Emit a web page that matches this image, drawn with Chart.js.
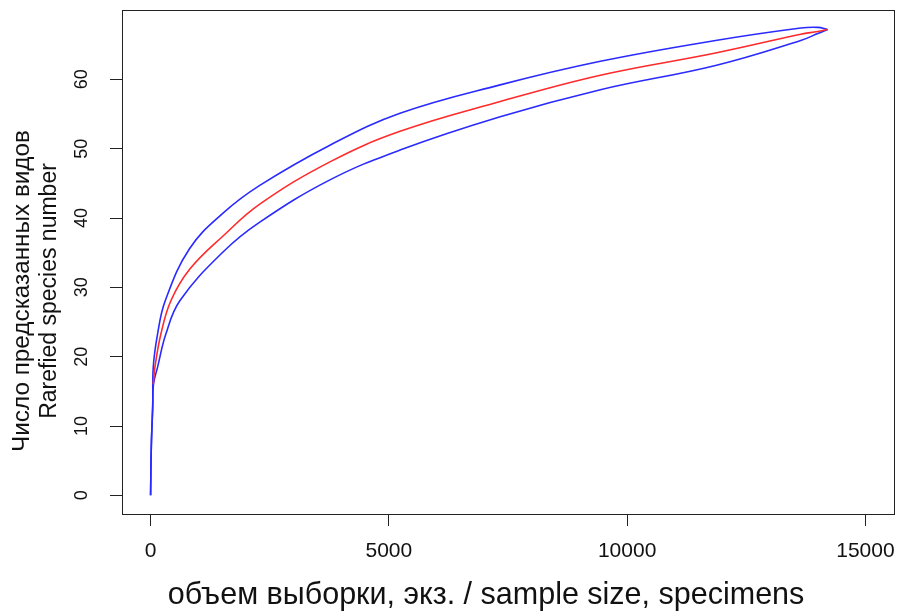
<!DOCTYPE html>
<html>
<head>
<meta charset="utf-8">
<script src="https://cdn.jsdelivr.net/npm/chart.js@4.4.1/dist/chart.umd.min.js"></script>
<style>
  html, body { margin: 0; padding: 0; background: #ffffff; }
  #wrap { width: 898px; height: 612px; position: relative; }
</style>
</head>
<body>
<div id="wrap"><canvas id="c" width="898" height="612"></canvas></div>
<script>
// ---- data ----
const upperX = [0, 15, 45, 56, 147, 309, 820, 1520, 2291, 3763, 5234, 7336, 9439, 11856, 13643, 14000, 14205];
const upperY = [0, 7, 13, 18.5, 23.3, 28.1, 35.6, 40.7, 44.7, 50.5, 55.1, 59.2, 62.6, 65.6, 67.4, 67.5, 67.2];

const meanX = [55, 91, 217, 428, 820, 1520, 2291, 3763, 5234, 7336, 9439, 11856, 13643, 14000, 14205];
const meanY = [16, 18.5, 23.3, 28.1, 32.6, 37.4, 42.0, 48.1, 52.5, 56.8, 60.6, 63.8, 66.5, 66.9, 67.2];

const lowerX = [0, 15, 45, 60, 147, 322, 617, 1520, 2291, 3763, 5234, 7336, 9439, 11856, 13643, 14000, 14205];
const lowerY = [0, 7, 13, 16, 18.5, 23.3, 28.1, 35.1, 39.4, 45.5, 49.8, 54.6, 58.5, 62.0, 65.6, 66.6, 67.2];

const xTicks = [0, 5000, 10000, 15000];
const yTicks = [0, 10, 20, 30, 40, 50, 60];

const xTitle = 'объем выборки, экз. / sample size, specimens';
const yTitle = ['Число предсказанных видов', 'Rarefied species number'];

const pts = (xs, ys) => xs.map((x, i) => ({ x: x, y: ys[i] }));

const FONT = "'Liberation Sans', Arial, sans-serif";

const boxPlugin = {
  id: 'box',
  afterDatasetsDraw(chart) {
    const a = chart.chartArea, ctx = chart.ctx;
    ctx.save();
    ctx.strokeStyle = '#222';
    ctx.lineWidth = 1;
    ctx.strokeRect(Math.round(a.left) + 0.5, Math.round(a.top) + 0.5,
                   Math.round(a.right - a.left), Math.round(a.bottom - a.top));
    ctx.restore();
  },
  afterDraw(chart) {
    const ctx = chart.ctx;
    ctx.save();
    ctx.fillStyle = '#111';
    ctx.textAlign = 'center';
    ctx.textBaseline = 'middle';
    ctx.font = '30.5px ' + FONT;
    ctx.fillText(xTitle, 486, 596);
    const cx = [22, 50];
    const fs = [24.3, 23];
    yTitle.forEach((t, i) => {
      ctx.save();
      ctx.font = fs[i] + 'px ' + FONT;
      ctx.translate(cx[i], 291);
      ctx.rotate(-Math.PI / 2);
      ctx.fillText(t, 0, 0);
      ctx.restore();
    });
    ctx.restore();
  }
};

const common = { pointRadius: 0, fill: false, tension: 0.4, borderWidth: 1.6 };

new Chart(document.getElementById('c'), {
  type: 'line',
  data: {
    datasets: [
      Object.assign({ label: 'mean', data: pts(meanX, meanY), borderColor: '#ff2a2a', order: 0 }, common),
      Object.assign({ label: 'upper', data: pts(upperX, upperY), borderColor: '#2a2aff', order: 1 }, common),
      Object.assign({ label: 'lower', data: pts(lowerX, lowerY), borderColor: '#2a2aff', order: 1 }, common)
    ]
  },
  options: {
    responsive: false,
    animation: false,
    devicePixelRatio: 1,
    layout: { padding: { top: 10, right: 4, left: 0, bottom: 0 } },
    plugins: { legend: { display: false }, tooltip: { enabled: false } },
    scales: {
      x: {
        type: 'linear',
        min: -600, max: 15600,
        afterBuildTicks: s => { s.ticks = xTicks.map(v => ({ value: v })); },
        afterFit: s => { s.height = 98; s.paddingLeft = 0; s.paddingRight = 0; },
        grid: { display: true, drawOnChartArea: false, drawTicks: true, tickLength: 12, color: '#222', lineWidth: 1 },
        border: { display: true, color: '#222' },
        ticks: { color: '#111', font: { family: FONT, size: 21 }, padding: 13, maxRotation: 0, autoSkip: false,
                 callback: v => String(v) },
        title: { display: false }
      },
      y: {
        type: 'linear',
        min: -2.69, max: 70,
        afterBuildTicks: s => { s.ticks = yTicks.map(v => ({ value: v })); },
        afterFit: s => { s.width = 122; s.paddingTop = 0; s.paddingBottom = 0; },
        grid: { display: true, drawOnChartArea: false, drawTicks: true, tickLength: 12, color: '#222', lineWidth: 1 },
        border: { display: true, color: '#222' },
        ticks: { color: '#111', font: { family: FONT, size: 18 }, padding: 18, minRotation: 90, maxRotation: 90,
                 crossAlign: 'center', autoSkip: false, callback: v => String(v) },
        title: { display: false }
      }
    }
  },
  plugins: [boxPlugin]
});
</script>
</body>
</html>
